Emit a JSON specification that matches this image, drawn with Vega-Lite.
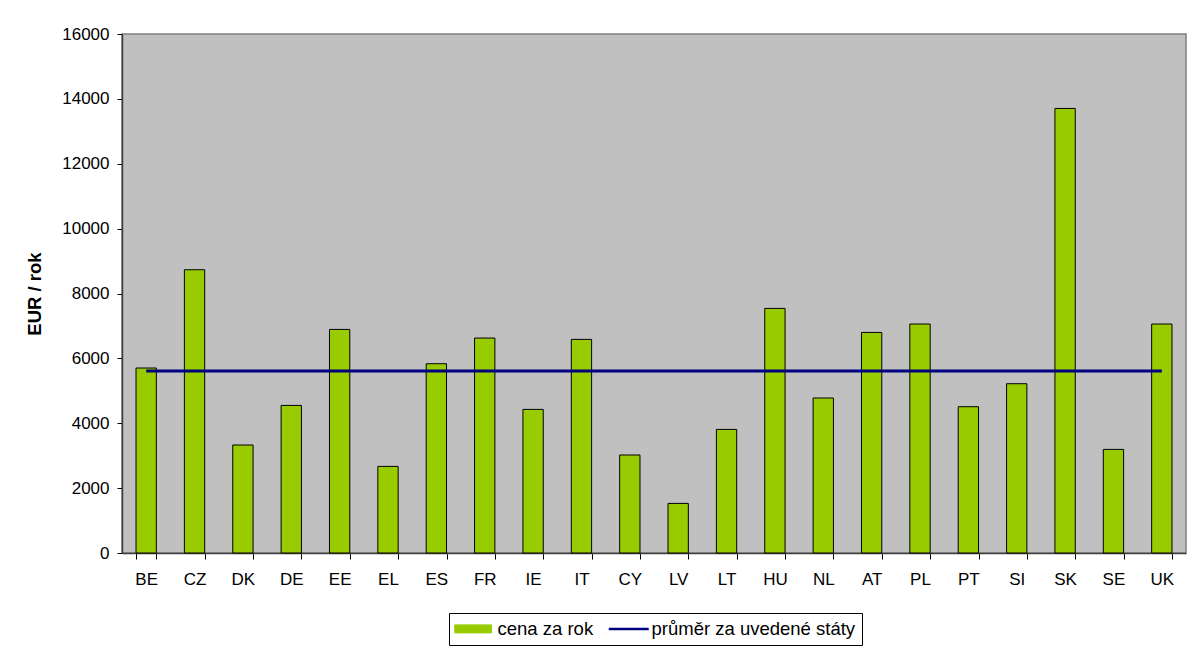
{
  "$schema": "https://vega.github.io/schema/vega-lite/v6.json",
  "autosize": {"type": "none"},
  "padding": {"left": 122, "top": 34, "right": 8, "bottom": 94},
  "width": 1064,
  "height": 519,
  "background": "white",
  "config": {
    "font": "Liberation Sans",
    "view": {"fill": "#c0c0c0", "stroke": "#808080", "strokeWidth": 1.5},
    "axis": {"labelFont": "Liberation Sans", "titleFont": "Liberation Sans", "labelColor": "black", "titleColor": "black", "domainColor": "#404040", "tickColor": "black", "grid": false}
  },
  "data": {
    "values": [
      {"stat": "BE", "cena": 5703, "prumer": 5610},
      {"stat": "CZ", "cena": 8733, "prumer": 5610},
      {"stat": "DK", "cena": 3329, "prumer": 5610},
      {"stat": "DE", "cena": 4550, "prumer": 5610},
      {"stat": "EE", "cena": 6893, "prumer": 5610},
      {"stat": "EL", "cena": 2670, "prumer": 5610},
      {"stat": "ES", "cena": 5835, "prumer": 5610},
      {"stat": "FR", "cena": 6627, "prumer": 5610},
      {"stat": "IE", "cena": 4427, "prumer": 5610},
      {"stat": "IT", "cena": 6585, "prumer": 5610},
      {"stat": "CY", "cena": 3021, "prumer": 5610},
      {"stat": "LV", "cena": 1529, "prumer": 5610},
      {"stat": "LT", "cena": 3810, "prumer": 5610},
      {"stat": "HU", "cena": 7540, "prumer": 5610},
      {"stat": "NL", "cena": 4778, "prumer": 5610},
      {"stat": "AT", "cena": 6800, "prumer": 5610},
      {"stat": "PL", "cena": 7059, "prumer": 5610},
      {"stat": "PT", "cena": 4510, "prumer": 5610},
      {"stat": "SI", "cena": 5219, "prumer": 5610},
      {"stat": "SK", "cena": 13705, "prumer": 5610},
      {"stat": "SE", "cena": 3194, "prumer": 5610},
      {"stat": "UK", "cena": 7059, "prumer": 5610}
    ]
  },
  "encoding": {
    "x": {
      "field": "stat",
      "type": "nominal",
      "sort": null,
      "scale": {"paddingInner": 0.58, "paddingOuter": 0.29},
      "axis": {"title": null, "labelAngle": 0, "labelFontSize": 17, "labelPadding": 12, "tickBand": "extent", "tickSize": 6, "domainWidth": 1.5}
    }
  },
  "layer": [
    {
      "mark": {"type": "bar", "stroke": "black", "strokeWidth": 1},
      "encoding": {
        "y": {
          "field": "cena",
          "type": "quantitative",
          "scale": {"domain": [0, 16000]},
          "axis": {"title": "EUR / rok", "titleFontSize": 18.5, "titleFontWeight": "bold", "titlePadding": 17, "labelFontSize": 17, "labelPadding": 8, "format": "d", "labelOverlap": false, "values": [0, 2000, 4000, 6000, 8000, 10000, 12000, 14000, 16000], "tickSize": 5, "domainWidth": 1.5}
        },
        "color": {
          "datum": "cena za rok",
          "scale": {"domain": ["cena za rok", "průměr za uvedené státy"], "range": ["#99cc00", "#000080"]},
          "legend": {
            "title": null,
            "orient": "none",
            "legendX": 327,
            "legendY": 579,
            "direction": "horizontal",
            "strokeColor": "black",
            "fillColor": "white",
            "padding": 6.5,
            "labelFontSize": 18.5,
            "labelFont": "Liberation Sans",
            "labelColor": "black",
            "labelLimit": 400,
            "labelOffset": 23.5,
            "columnPadding": 10,
            "symbolSize": 400,
            "symbolOpacity": 1,
            "symbolType": {"expr": "datum.value === 'cena za rok' ? 'M-1,-0.4H2.68V0.4H-1Z' : 'M-1,0H3'"},
            "symbolStrokeWidth": {"expr": "datum.value === 'cena za rok' ? 1 : 2.5"}
          }
        }
      }
    },
    {
      "mark": {"type": "line", "strokeWidth": 3},
      "encoding": {
        "y": {"field": "prumer", "type": "quantitative"},
        "color": {"datum": "průměr za uvedené státy"}
      }
    }
  ]
}
